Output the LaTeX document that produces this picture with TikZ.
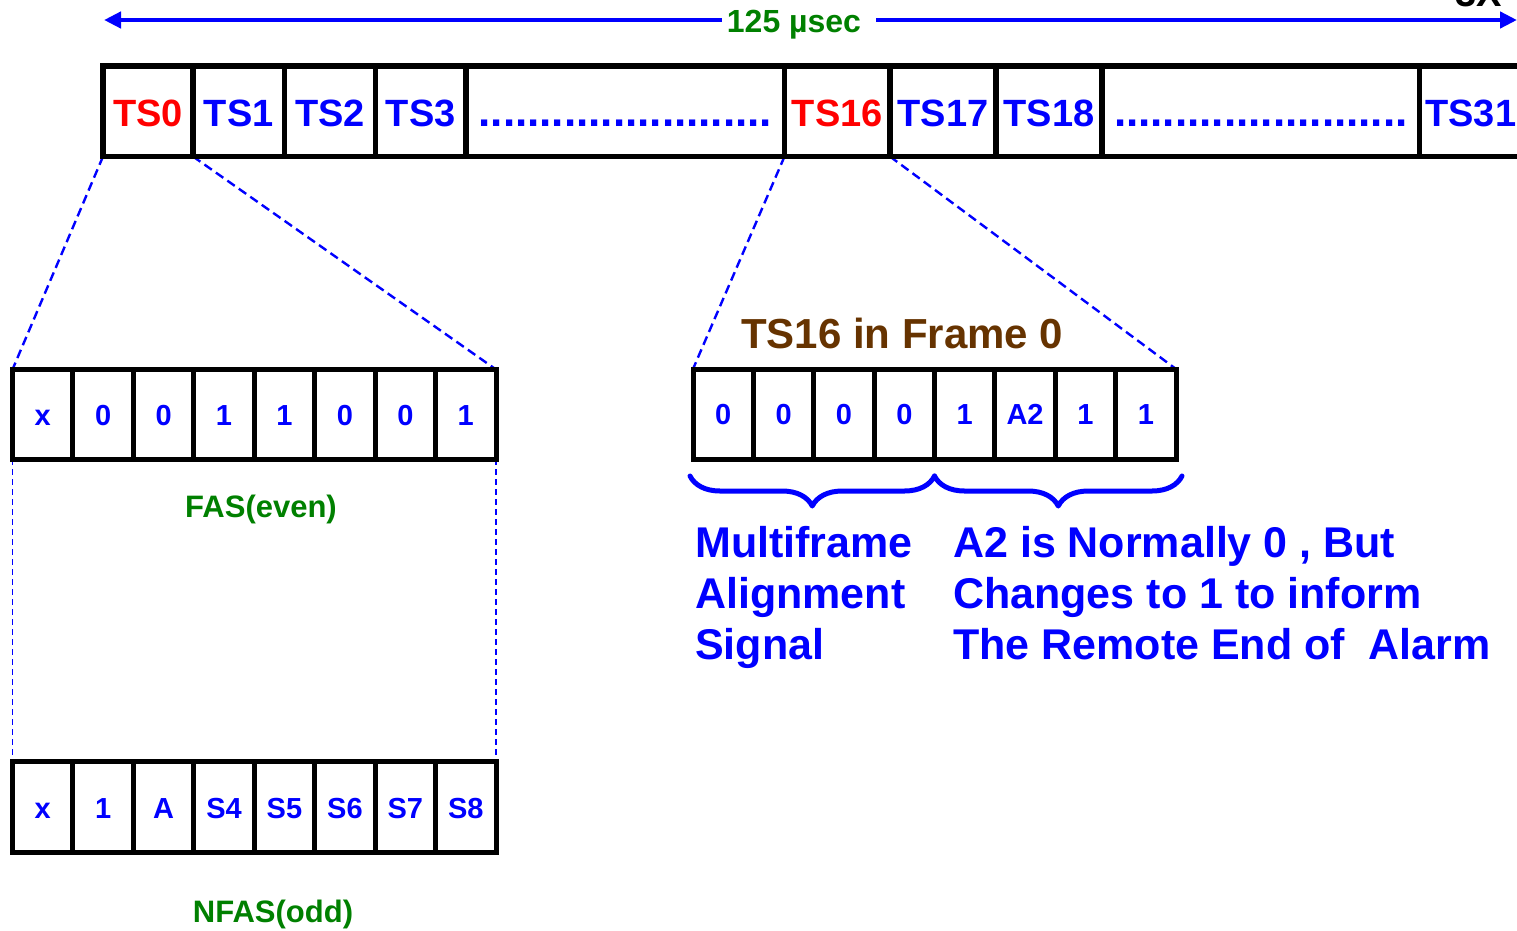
\documentclass[tikz,border=0pt]{standalone}
\usepackage{fontspec}
\setmainfont{Liberation Sans}
\usetikzlibrary{arrows.meta,decorations.pathreplacing,calc,backgrounds}
\definecolor{tsblue}{RGB}{0,0,255}
\definecolor{tsred}{RGB}{255,0,0}
\definecolor{tsgreen}{RGB}{0,128,0}
\definecolor{tsbrown}{RGB}{102,51,0}

\begin{document}
\begin{tikzpicture}[x=1pt,y=-1pt,
  slot/.style={draw=black, line width=5.5pt, rectangle, outer sep=0pt, inner sep=0pt,
    minimum height=90.5pt, text height=29.5pt, text depth=0pt,
    font=\bfseries\fontsize{38}{40}\selectfont, text=tsblue},
  dotfill/.style={font=\bfseries\fontsize{44}{46}\selectfont},
  bitcell/.style={draw=black, line width=5pt, rectangle, outer sep=0pt, inner sep=0pt,
    minimum height=90pt, text height=21.5pt, text depth=0pt,
    font=\bfseries\fontsize{29}{31}\selectfont, text=tsblue},
  zoomline/.style={tsblue, line width=2.4pt, dash pattern=on 9pt off 5pt},
  guideline/.style={tsblue, line width=1.8pt, dash pattern=on 6pt off 4pt},
  spanarrow/.style={tsblue, line width=4.5pt, -{Triangle[length=17pt,width=16pt]}},
  curly/.style={tsblue, line width=5pt, line cap=round, line join=round,
    decorate, decoration={brace, mirror, amplitude=30pt}},
  caption/.style={inner sep=0pt, font=\bfseries\fontsize{31}{34}\selectfont, text=tsgreen},
  note/.style={inner sep=0pt, anchor=north west, align=left, text=tsblue,
    font=\bfseries\fontsize{43}{51}\selectfont}]

\useasboundingbox (0,0) rectangle (1517,930);

% frame duration
\node[inner sep=0pt, anchor=base, text=tsgreen, font=\bfseries\fontsize{32}{36}\selectfont] (span) at (794,32) {125 µsec};
\coordinate (spanL) at (104,20);
\coordinate (spanR) at (1517,20);
\draw[spanarrow] ($(span.west |- spanL)+(-5,0)$) -- (spanL);
\draw[spanarrow] ($(span.east |- spanR)+(15,0)$) -- (spanR);
\node[inner sep=0pt, anchor=base west, font=\bfseries\fontsize{38}{40}\selectfont] (corner) at (1455,6) {3X};

% the 32 time slots of one frame
\node[slot, minimum width=90pt,   text=tsred] (ts0)  at (148,111.25)    {TS0};
\node[slot, minimum width=91.5pt]             (ts1)  at (238.75,111.25) {TS1};
\node[slot, minimum width=91pt]               (ts2)  at (330,111.25)    {TS2};
\node[slot, minimum width=90.5pt]             (ts3)  at (420.75,111.25) {TS3};
\node[slot, dotfill, minimum width=318.5pt]   (gapA) at (625.25,111.25) {........................};
\node[slot, minimum width=105.5pt, text=tsred] (ts16) at (837.25,111.25) {TS16};
\node[slot, minimum width=106pt]              (ts17) at (943,111.25)    {TS17};
\node[slot, minimum width=106pt]              (ts18) at (1049,111.25)   {TS18};
\node[slot, dotfill, minimum width=317.5pt]   (gapB) at (1260.75,111.25) {........................};
\node[slot, minimum width=102.5pt]            (ts31) at (1470.75,111.25) {TS31};

% TS0 contents: FAS and NFAS words
\foreach \t [count=\i from 0] in {x,0,0,1,1,0,0,1}
  \node[bitcell, minimum width=60.44pt, minimum height=89.5pt] (fas\i) at (42.72+60.44*\i,414.25) {\t};
\foreach \t [count=\i from 0] in {x,1,A,S4,S5,S6,S7,S8}
  \node[bitcell, minimum width=60.44pt, minimum height=90.7pt] (nfas\i) at (42.72+60.44*\i,807.3) {\t};
\node[caption, anchor=base] (fascap) at (261,517) {FAS(even)};
\node[caption, anchor=base] (nfascap) at (273,922) {NFAS(odd)};

% TS16 contents in frame 0
\node[inner sep=0pt, anchor=base west, text=tsbrown, font=\bfseries\fontsize{42}{46}\selectfont] (mftitle) at (741,348) {TS16 in Frame 0};
\foreach \t [count=\i from 0] in {0,0,0,0,1,A2,1,1}
  \node[bitcell, minimum width=60.375pt] (mf\i) at (723.19+60.375*\i,414) {\t};

\begin{pgfonlayer}{background}
  \draw[zoomline] (ts0.south west) -- (fas0.north west);
  \draw[zoomline] (ts1.south west) -- (fas7.north east);
  \draw[zoomline] (ts16.south west) -- (mf0.north west);
  \draw[zoomline] (ts17.south west) -- (mf7.north east);
  \draw[guideline] (fas0.south west) -- (nfas0.north west);
  \draw[guideline] (fas7.south east) -- (nfas7.north east);
\end{pgfonlayer}

% braces and their explanations
\draw[curly] ($(mf0.south west)+(-3,17)$) -- ($(mf3.south east)+(0,17)$);
\draw[curly] ($(mf4.south west)+(0,17)$) -- ($(mf7.south east)+(6,17)$);
\node[note] (masnote) at (695,526) {Multiframe\\Alignment\\Signal};
\node[note] (a2note) at (953,526) {A2 is Normally 0 , But\\Changes to 1 to inform\\The Remote End of\ \ Alarm};

\end{tikzpicture}
\end{document}
